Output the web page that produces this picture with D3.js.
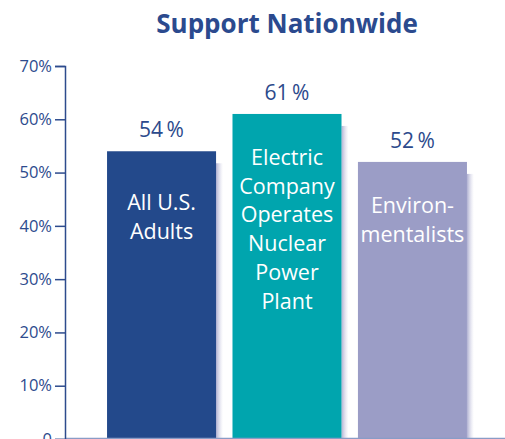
<!DOCTYPE html>
<html>
<head>
<meta charset="utf-8">
<script src="https://d3js.org/d3.v7.min.js"></script>
<style>
  body { margin: 0; background: #fff; }
  svg text { font-family: 'Open Sans', 'Noto Sans', sans-serif; }
</style>
</head>
<body>
<script>
// data
var categories = ['All U.S. Adults', 'Electric Company Operates Nuclear Power Plant', 'Environmentalists'];
var values = [54, 61, 52];
var barLines = [['All U.S.', 'Adults'], ['Electric', 'Company', 'Operates', 'Nuclear', 'Power', 'Plant'], ['Environ-', 'mentalists']];
var barColors = ['#23498b', '#00a5ae', '#9b9dc6'];
var tickValues = [0, 10, 20, 30, 40, 50, 60, 70];

var W = 505, H = 439;
var svg = d3.select('body').append('svg').attr('width', W).attr('height', H);

var y = d3.scaleLinear().domain([0, 70]).range([439, 66]);
var x = d3.scaleBand().domain(categories).range([94.5, 479.5]).paddingInner(0.131).paddingOuter(0.1);

var defs = svg.append('defs');
var grad = defs.append('linearGradient').attr('id', 'shadow');
grad.append('stop').attr('offset', '0%').attr('stop-color', '#8e8fbf').attr('stop-opacity', 0.7);
grad.append('stop').attr('offset', '100%').attr('stop-color', '#c8c8e0').attr('stop-opacity', 0);

// title
svg.append('text')
  .attr('x', 287).attr('y', 33)
  .attr('text-anchor', 'middle')
  .style('font-size', '26px').style('font-weight', 'bold')
  .style('fill', '#2b4a8e')
  .text('Support Nationwide');

// shadows
svg.selectAll('.shadow').data(categories).enter().append('rect')
  .attr('class', 'shadow')
  .attr('x', function(d) { return x(d) + x.bandwidth(); })
  .attr('y', function(d, i) { return y(values[i]) + 12; })
  .attr('width', 7)
  .attr('height', function(d, i) { return y(0) - y(values[i]) - 12; })
  .attr('fill', 'url(#shadow)');

// bars
svg.selectAll('.bar').data(categories).enter().append('rect')
  .attr('class', 'bar')
  .attr('x', function(d) { return x(d); })
  .attr('y', function(d, i) { return y(values[i]); })
  .attr('width', x.bandwidth())
  .attr('height', function(d, i) { return y(0) - y(values[i]); })
  .attr('fill', function(d, i) { return barColors[i]; });

// value labels
svg.selectAll('.val').data(categories).enter().append('text')
  .attr('class', 'val')
  .attr('x', function(d) { return x(d) + x.bandwidth() / 2; })
  .attr('y', function(d, i) { return y(values[i]) - 14; })
  .attr('text-anchor', 'middle')
  .style('font-size', '21px').style('fill', '#2c4a8c')
  .text(function(d, i) { return values[i] + '\u2009%'; });

// labels inside bars
var startY = [210, 165, 213];
categories.forEach(function(c, i) {
  var t = svg.append('text')
    .attr('text-anchor', 'middle')
    .style('font-size', '21.5px').style('fill', '#fff');
  barLines[i].forEach(function(line, j) {
    t.append('tspan')
      .attr('x', x(c) + x.bandwidth() / 2)
      .attr('y', startY[i] + j * 28.7)
      .text(line);
  });
});

// x baseline
svg.append('line')
  .attr('x1', 65).attr('x2', W).attr('y1', 438.5).attr('y2', 438.5)
  .attr('stroke', '#8a9cc6').attr('stroke-width', 1.5);

// y axis
var yAxis = d3.axisLeft(y).tickValues(tickValues).tickSize(10).tickPadding(3)
  .tickFormat(function(d) { return d === 0 ? '0' : d + '%'; });
var g = svg.append('g').attr('transform', 'translate(65,0)').call(yAxis);
g.select('.domain').attr('stroke', '#2d4b8d').attr('stroke-width', 1.5);
g.selectAll('.tick line').attr('stroke', '#2d4b8d').attr('stroke-width', 1.5);
g.selectAll('.tick text').style('font-size', '16.5px').style('fill', '#2d4b8d')
  .style('font-family', "'Open Sans', 'Noto Sans', sans-serif");
</script>
</body>
</html>
